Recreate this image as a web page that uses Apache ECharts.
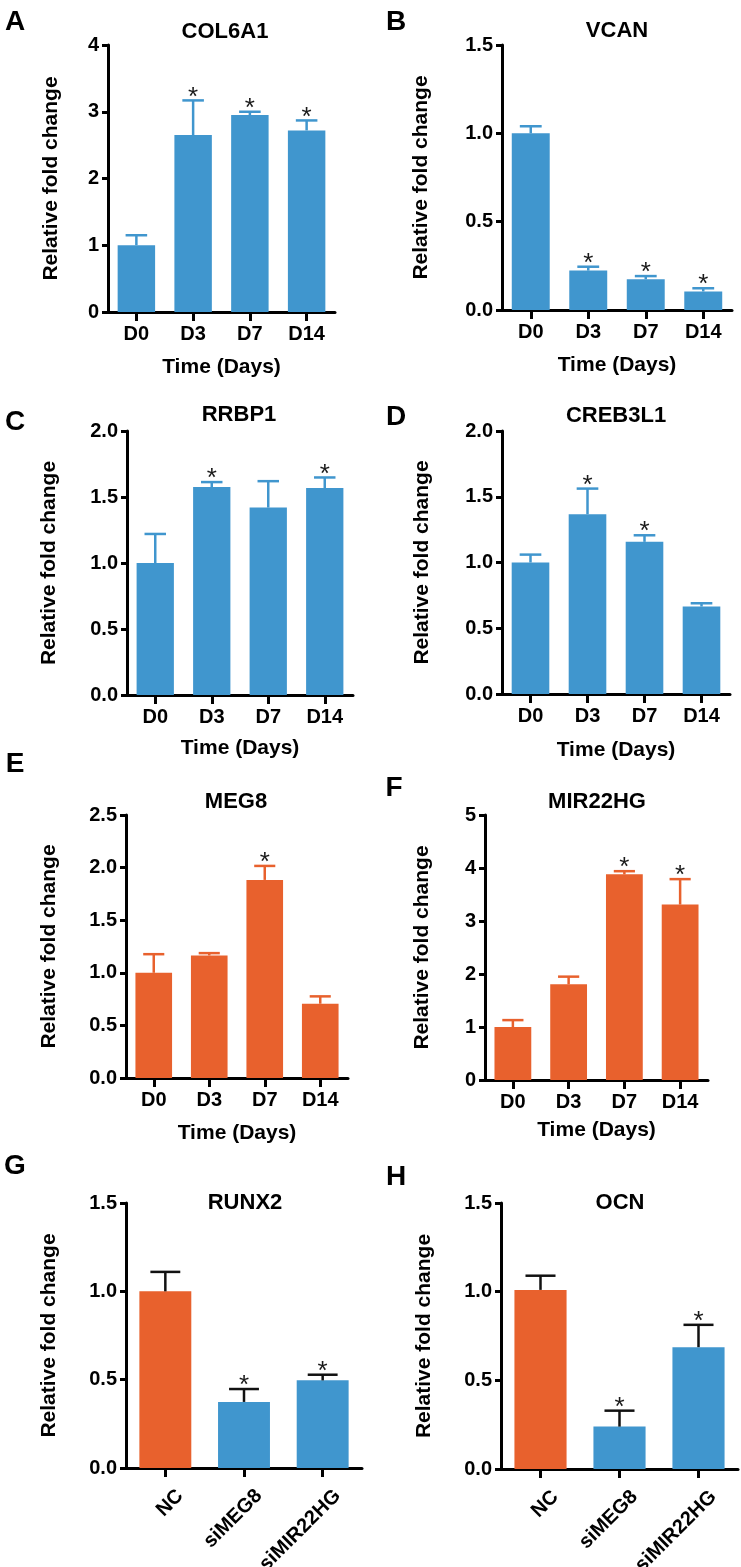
<!DOCTYPE html>
<html>
<head>
<meta charset="utf-8">
<script src="https://cdn.jsdelivr.net/npm/echarts@6/dist/echarts.min.js"></script>
<style>
html,body{margin:0;padding:0;background:#fff;}
#chart{width:741px;height:1567px;}
</style>
</head>
<body>
<div id="chart"></div>
<script>
// ---------- DATA ----------
const dayCats = ['D0', 'D3', 'D7', 'D14'];
const siCats = ['NC', 'siMEG8', 'siMIR22HG'];

const col6a1Mean = [1.0, 2.65, 2.95, 2.72];
const col6a1Sem  = [0.15, 0.52, 0.05, 0.15];
const col6a1Sig  = [0, 1, 1, 1];

const vcanMean = [1.0, 0.223, 0.174, 0.105];
const vcanSem  = [0.04, 0.022, 0.018, 0.018];
const vcanSig  = [0, 1, 1, 1];

const rrbp1Mean = [1.0, 1.575, 1.42, 1.568];
const rrbp1Sem  = [0.22, 0.038, 0.2, 0.08];
const rrbp1Sig  = [0, 1, 0, 1];

const creb3l1Mean = [1.0, 1.367, 1.157, 0.665];
const creb3l1Sem  = [0.06, 0.195, 0.05, 0.025];
const creb3l1Sig  = [0, 1, 1, 0];

const meg8Mean = [1.0, 1.165, 1.883, 0.706];
const meg8Sem  = [0.177, 0.022, 0.133, 0.07];
const meg8Sig  = [0, 0, 1, 0];

const mir22hgMean = [1.0, 1.805, 3.88, 3.31];
const mir22hgSem  = [0.13, 0.145, 0.06, 0.48];
const mir22hgSig  = [0, 0, 1, 1];

const runx2Mean = [1.0, 0.374, 0.496];
const runx2Sem  = [0.11, 0.073, 0.032];
const runx2Sig  = [0, 1, 1];

const ocnMean = [1.01, 0.239, 0.687];
const ocnSem  = [0.08, 0.09, 0.126];
const ocnSig  = [0, 1, 1];

const yMaxes     = [4, 1.5, 2.0, 2.0, 2.5, 5, 1.5, 1.5];
const yIntervals = [1, 0.5, 0.5, 0.5, 0.5, 1, 0.5, 0.5];
const yDecimals  = [0, 1, 1, 1, 1, 0, 1, 1];

// ---------- STYLE / LAYOUT ----------
const FONT = '"Liberation Sans", Arial, Helvetica, sans-serif';
const BLUE = '#4096CE';
const ORANGE = '#E8612D';

const panels = [
  {letter:'A', title:'COL6A1', cats:dayCats, mean:col6a1Mean, sem:col6a1Sem, sig:col6a1Sig, barColors:[BLUE,BLUE,BLUE,BLUE], errColor:null,
   grid:{left:108, top:45, width:227, height:267}, yGap:46, xGap:45, letterPos:[15,22], titlePos:[225,32]},
  {letter:'B', title:'VCAN', cats:dayCats, mean:vcanMean, sem:vcanSem, sig:vcanSig, barColors:[BLUE,BLUE,BLUE,BLUE], errColor:null,
   grid:{left:502, top:45, width:230, height:265}, yGap:70, xGap:45, letterPos:[396,22], titlePos:[617,31]},
  {letter:'C', title:'RRBP1', cats:dayCats, mean:rrbp1Mean, sem:rrbp1Sem, sig:rrbp1Sig, barColors:[BLUE,BLUE,BLUE,BLUE], errColor:null,
   grid:{left:127, top:431, width:226, height:264}, yGap:67, xGap:43, letterPos:[15,422], titlePos:[239,415]},
  {letter:'D', title:'CREB3L1', cats:dayCats, mean:creb3l1Mean, sem:creb3l1Sem, sig:creb3l1Sig, barColors:[BLUE,BLUE,BLUE,BLUE], errColor:null,
   grid:{left:502, top:431, width:228, height:263}, yGap:69, xGap:46, letterPos:[396,417], titlePos:[616,416]},
  {letter:'E', title:'MEG8', cats:dayCats, mean:meg8Mean, sem:meg8Sem, sig:meg8Sig, barColors:[ORANGE,ORANGE,ORANGE,ORANGE], errColor:null,
   grid:{left:126, top:815, width:222, height:263}, yGap:66, xGap:45, letterPos:[15,764], titlePos:[236,802]},
  {letter:'F', title:'MIR22HG', cats:dayCats, mean:mir22hgMean, sem:mir22hgSem, sig:mir22hgSig, barColors:[ORANGE,ORANGE,ORANGE,ORANGE], errColor:null,
   grid:{left:485, top:815, width:223, height:265}, yGap:52, xGap:40, letterPos:[394,788], titlePos:[597,802]},
  {letter:'G', title:'RUNX2', cats:siCats, mean:runx2Mean, sem:runx2Sem, sig:runx2Sig, barColors:[ORANGE,BLUE,BLUE], errColor:'#111',
   grid:{left:126, top:1203, width:236, height:265}, yGap:66, xGap:null, letterPos:[15,1166], titlePos:[245,1203]},
  {letter:'H', title:'OCN', cats:siCats, mean:ocnMean, sem:ocnSem, sig:ocnSig, barColors:[ORANGE,BLUE,BLUE], errColor:'#111',
   grid:{left:501, top:1203, width:237, height:266}, yGap:66, xGap:null, letterPos:[396,1177], titlePos:[620,1203]}
];

const grids = [], xAxes = [], yAxes = [], series = [], graphics = [];

panels.forEach((p, i) => {
  grids.push(Object.assign({containLabel:false, outerBoundsMode:'none'}, p.grid));
  const rotated = p.xGap === null;
  xAxes.push({
    type:'category', gridIndex:i, data:p.cats,
    name: rotated ? '' : 'Time (Days)',
    nameLocation:'middle', nameGap: rotated ? 0 : p.xGap,
    nameTextStyle:{fontFamily:FONT, fontWeight:'bold', fontSize:21, color:'#000'},
    axisLine:{show:true, lineStyle:{color:'#000', width:3}},
    axisTick:{show:true, alignWithLabel:true, length:9, lineStyle:{color:'#000', width:3}},
    axisLabel: rotated
      ? {fontFamily:FONT, fontWeight:'bold', fontSize:20, color:'#000', margin:10, rotate:45, interval:0, verticalAlign:'top', padding:[11,0,0,0]}
      : {fontFamily:FONT, fontWeight:'bold', fontSize:20, color:'#000', margin:12, interval:0},
    splitLine:{show:false}
  });
  const dec = yDecimals[i];
  yAxes.push({
    type:'value', gridIndex:i, min:0, max:yMaxes[i], interval:yIntervals[i],
    name:'Relative fold change', nameLocation:'middle', nameGap:p.yGap, nameRotate:90,
    nameTextStyle:{fontFamily:FONT, fontWeight:'bold', fontSize:21, color:'#000'},
    axisLine:{show:true, onZero:false, lineStyle:{color:'#000', width:3}},
    axisTick:{show:true, length:6, lineStyle:{color:'#000', width:3}},
    axisLabel:{fontFamily:FONT, fontWeight:'bold', fontSize:20, color:'#000', margin:9,
      formatter:(v)=>Number(v).toFixed(dec)},
    splitLine:{show:false}
  });
  series.push({
    type:'bar', xAxisIndex:i, yAxisIndex:i, barWidth:'66%', silent:true,
    data:p.mean.map((m, k)=>({value:m, itemStyle:{color:p.barColors[k]}})),
    z:2
  });
  series.push({
    type:'custom', xAxisIndex:i, yAxisIndex:i, silent:true, z:3,
    data:p.mean.map((m, k)=>[k, m, p.sem[k], p.sig[k]]),
    renderItem:(params, api)=>{
      const k = api.value(0), m = api.value(1), s = api.value(2), sg = api.value(3);
      const pm = api.coord([k, m]);
      const pt = api.coord([k, m + s]);
      const band = api.size([1, 0])[0];
      const half = band * 0.19;
      const col = p.errColor || p.barColors[k];
      const children = [
        {type:'line', shape:{x1:pm[0], y1:pm[1], x2:pt[0], y2:pt[1]}, style:{stroke:col, lineWidth:2.5}},
        {type:'line', shape:{x1:pt[0]-half, y1:pt[1], x2:pt[0]+half, y2:pt[1]}, style:{stroke:col, lineWidth:2.5}}
      ];
      if (sg) {
        children.push({type:'text', x:pt[0], y:pt[1]-3,
          style:{text:'*', fill:'#1a1a1a', font:'26px ' + FONT, align:'center', verticalAlign:'middle', textAlign:'center', textVerticalAlign:'middle'}});
      }
      return {type:'group', children};
    }
  });
  graphics.push({type:'text', x:p.letterPos[0], y:p.letterPos[1],
    style:{text:p.letter, fill:'#000', font:'bold 28px ' + FONT, align:'center', verticalAlign:'middle', textAlign:'center', textVerticalAlign:'middle'}});
  graphics.push({type:'text', x:p.titlePos[0], y:p.titlePos[1],
    style:{text:p.title, fill:'#000', font:'bold 22px ' + FONT, align:'center', verticalAlign:'middle', textAlign:'center', textVerticalAlign:'middle'}});
});

const chart = echarts.init(document.getElementById('chart'), null, {renderer:'canvas', width:741, height:1567});
chart.setOption({
  backgroundColor:'#fff',
  animation:false,
  grid:grids, xAxis:xAxes, yAxis:yAxes, series:series, graphic:graphics
});
</script>
</body>
</html>
